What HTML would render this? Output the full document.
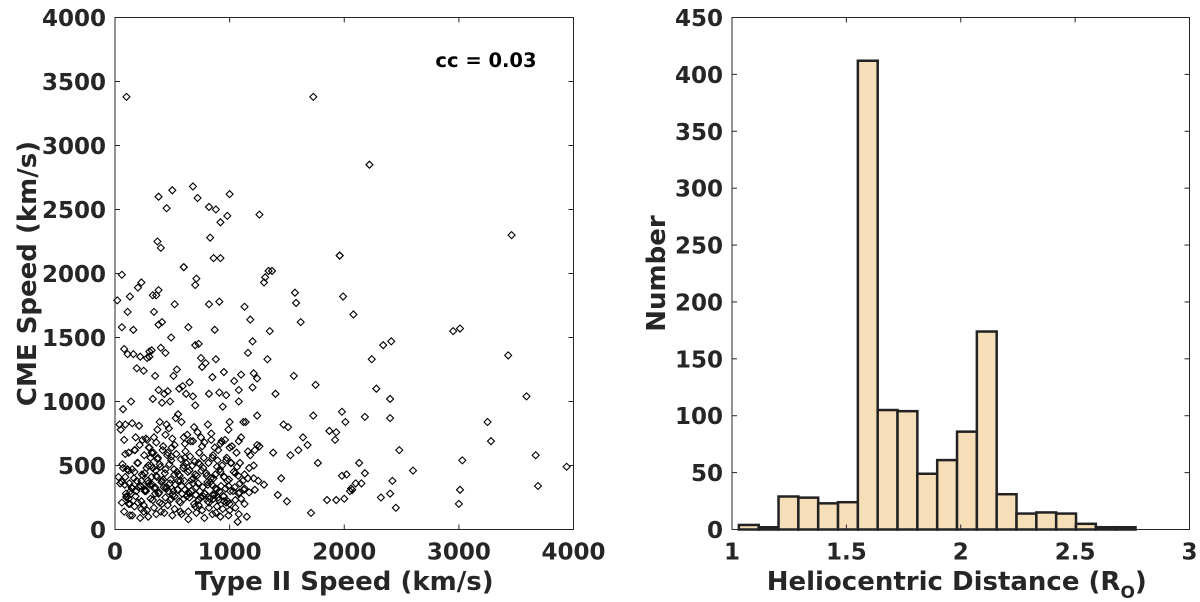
<!DOCTYPE html>
<html><head><meta charset="utf-8">
<style>
html,body{margin:0;padding:0;background:#fff;}
svg{display:block;font-family:"DejaVu Sans","Liberation Sans",sans-serif;}
</style></head>
<body>
<svg id="chart" width="1200" height="602" viewBox="0 0 1200 602">
<g id="left"></g>
<g id="right"></g>
</svg>
<script>
// ---- scatter data ----
const scatterX = [100,1730,2220,3460,2950,3010,3430,3590,3250,3280,3670,3940,3030,3010,3000,3690,2480,2600,2420,2400,2320,2450,2100,1980,2010,1990,1960,2080,2240,2340,2410,2280,2400,2400,2180,2130,2180,2060,1980,2020,2050,1920,1870,1930,1750,1730,1710,1770,1570,1580,1620,1560,1530,1600,1470,1450,1310,1340,1260,1400,1240,1180,1850,1930,2000,2070,2150,1680,1640,1510,1500,1420,1380,1350,1330,
380,500,680,1000,400,600,450,720,820,880,920,980,700,830,860,920,370,380,330,340,380,1960,1300,1370,60,230,200,130,110,160,20,300,320,360,400,410,440,490,520,600,640,700,710,750,820,870,910,950,1080,1100,1130,1200,1210,
60,80,110,140,160,190,220,250,280,300,330,350,380,410,430,460,480,510,540,560,590,620,650,680,700,730,760,790,820,850,880,910,940,970,1000,1040,1080,1120,1160,1200,1240,
40,70,90,120,150,180,210,240,270,300,320,340,370,390,420,450,470,500,530,550,580,610,630,660,690,720,750,780,810,840,870,900,930,960,990,1020,1060,1100,1140,1180,1220,1260,
50,80,100,130,170,200,230,260,290,310,330,360,390,410,440,460,490,520,540,570,600,620,650,670,700,740,770,800,830,860,890,920,950,980,1010,1050,1090,1130,1170,1210,1250,1300,
30,60,90,120,150,190,220,260,290,320,350,380,420,450,480,510,550,580,610,640,680,710,740,780,810,850,880,910,950,990,1030,1080,1130,1170,1220,
100,140,180,230,270,310,350,390,440,480,520,560,600,650,690,730,770,820,860,900,950,1000,1050,1100,
60,120,170,230,280,340,400,460,520,580,640,700,760,820,880,940,1000,1080,1150,
80,150,220,290,360,430,500,570,640,710,780,850,920,990,1070,
130,250,370,490,610,730,850,970,1090,1210,
70,110,150,195,235,275,315,355,395,435,475,515,555,595,635,675,715,755,795,835,875,915,955,995,1035,1075,1115,1160,
45,85,125,165,205,245,285,325,365,405,445,485,525,565,605,645,685,725,765,805,845,885,925,965,1005,1045,1085,1125,
95,135,175,215,255,295,335,375,415,455,495,535,575,615,655,695,735,775,815,855,895,935,975,1015,1065,
65,105,145,185,225,265,305,345,385,425,465,505,545,585,625,665,705,745,785,825,865,905,945,985,
120,200,280,360,440,520,600,680,760,840,920,1000,1080,1160,1240,
90,170,250,330,410,490,570,650,730,810,890,970,1050,1130];
const scatterY = [3380,3380,2850,2300,1550,1570,1360,1040,840,690,580,490,540,310,200,340,620,460,380,280,250,170,360,920,840,1820,2140,1680,1330,1440,1470,1100,1020,870,880,520,440,320,420,430,300,700,770,760,1130,890,130,520,1850,1770,1620,1200,580,620,820,400,1970,2020,2460,1060,1180,1640,230,230,240,310,360,660,720,800,220,270,600,1550,1330,
2600,2650,2680,2620,2200,2050,2510,2590,2520,2500,2400,2450,1910,2280,2120,2120,2250,1870,1830,1700,1600,2140,1930,2020,1990,1930,1890,1820,1700,1560,1790,1350,1400,1830,1420,1620,1380,1500,1760,2050,1580,1440,1960,1340,1760,1560,1780,1230,1000,1210,1740,1110,1220,1580,1410,
1370,1000,1370,1260,1350,1240,1340,1390,1020,1200,1090,990,1060,1080,1000,1200,1250,1100,1120,1060,1150,1040,970,1450,1270,1300,1060,1190,1330,1070,960,1050,840,1160,1090,840,1380,1470,890,820,940,
820,600,830,720,810,700,710,640,600,720,780,840,650,820,790,710,870,900,840,670,740,690,800,760,720,680,820,750,640,620,690,700,780,650,600,720,840,580,620,650,780,700,
250,200,450,520,380,440,500,560,480,420,510,380,470,600,540,430,450,380,500,520,460,390,430,510,480,420,370,400,490,450,410,380,520,440,360,430,480,400,380,350,410,370,
410,460,320,380,340,300,360,410,330,280,390,320,360,300,380,340,310,290,360,330,300,280,350,270,320,300,260,340,300,280,320,290,310,260,280,
260,220,300,240,280,210,250,230,260,220,240,280,200,230,260,210,240,250,220,200,230,240,210,200,
180,160,150,170,140,190,160,120,140,180,150,170,130,160,150,120,100,140,110,
90,100,120,130,110,140,80,130,90,120,100,110,60,110,140,
550,570,560,520,560,540,520,500,480,470,
470,520,430,480,500,460,490,440,510,470,430,480,450,500,420,460,440,400,430,470,410,390,450,420,380,400,360,350,
360,400,330,420,380,350,410,370,330,390,350,420,380,340,400,360,330,370,350,310,340,320,300,330,290,310,280,300,
620,660,580,640,600,560,620,580,640,590,550,610,570,530,600,560,520,580,540,500,560,520,490,510,470,
330,300,340,310,350,320,290,330,300,270,310,280,260,300,270,250,280,240,270,230,260,220,240,210,
700,680,740,660,720,690,650,700,670,640,690,610,660,590,620,
190,230,200,240,210,250,190,220,180,210,170,200,160,180];

// ---- histogram data ----
const binStart = 1.03;
const binWidth = 0.0867;
const counts = [4,2,29,28,23,24,412,105,104,49,61,86,174,31,14,15,14,5,2,2];

const xTicksL = [0,1000,2000,3000,4000];
const yTicksL = [0,500,1000,1500,2000,2500,3000,3500,4000];
const xTicksR = [1,1.5,2,2.5,3];
const yTicksR = [0,50,100,150,200,250,300,350,400,450];

const NS = "http://www.w3.org/2000/svg";
function mk(tag, attrs, parent){
  const e = document.createElementNS(NS, tag);
  for (const k in attrs) e.setAttribute(k, attrs[k]);
  parent.appendChild(e);
  return e;
}
const TOP = 17.5, BOT = 529.5;
const Lx0 = 115, Lx1 = 573.5, Rx0 = 732, Rx1 = 1189.5;
const sxL = v => Lx0 + (v/4000)*(Lx1-Lx0);
const syL = v => BOT - (v/4000)*(BOT-TOP);
const sxR = v => Rx0 + ((v-1)/2)*(Rx1-Rx0);
const syR = v => BOT - (v/450)*(BOT-TOP);
const TXT = "#262626";

function axes(g, x0, x1, xt, yt, sx, sy, xfmt){
  const box = mk('rect',{x:x0,y:TOP,width:x1-x0,height:BOT-TOP,fill:'none',stroke:'#262626','stroke-width':1},g);
  
  
  xt.forEach(v=>{
    const X = sx(v);
    mk('line',{x1:X,x2:X,y1:BOT,y2:BOT-5,stroke:'#262626'},g);
    mk('line',{x1:X,x2:X,y1:TOP,y2:TOP+5,stroke:'#262626'},g);
    const t = mk('text',{x:X,y:BOT+30,'text-anchor':'middle','font-size':23,'font-weight':'bold',fill:TXT},g);
    t.textContent = xfmt(v);
    
    
  });
  yt.forEach(v=>{
    const Y = sy(v);
    mk('line',{x1:x0,x2:x0+5,y1:Y,y2:Y,stroke:'#262626'},g);
    mk('line',{x1:x1,x2:x1-5,y1:Y,y2:Y,stroke:'#262626'},g);
    const t = mk('text',{x:x0-9,y:Y+8.5,'text-anchor':'end','font-size':23,'font-weight':'bold',fill:TXT},g);
    t.textContent = v;
    
    
  });
}

// Left scatter
const L = document.getElementById('left');
const pts = mk('g',{},L);


scatterX.forEach((xv,i)=>{
  const cx = sxL(xv), cy = syL(scatterY[i]);
  const p = mk('path',{d:`M${cx-3.5},${cy} L${cx},${cy-3.5} L${cx+3.5},${cy} L${cx},${cy+3.5} Z`,fill:'none',stroke:'#000','stroke-width':1.1},pts);
  
  
});
axes(L, Lx0, Lx1, xTicksL, yTicksL, sxL, syL, v=>String(v));
let t = mk('text',{x:486,y:67,'text-anchor':'middle','font-size':19.5,'font-weight':'bold',fill:'#000'},L);
t.textContent = 'cc = 0.03';


t = mk('text',{x:(Lx0+Lx1)/2,y:590,'text-anchor':'middle','font-size':26,'font-weight':'bold',fill:TXT},L);
t.textContent = 'Type II Speed (km/s)';


t = mk('text',{x:0,y:0,'text-anchor':'middle','font-size':26,'font-weight':'bold',fill:TXT,transform:`translate(36,${(TOP+BOT)/2}) rotate(-90)`},L);
t.textContent = 'CME Speed (km/s)';



// Right histogram
const R = document.getElementById('right');
counts.forEach((c,i)=>{
  const a = binStart + i*binWidth;
  const x0 = sxR(a), x1 = sxR(a+binWidth);
  const r = mk('rect',{x:x0,y:syR(c),width:x1-x0,height:BOT-syR(c),fill:'#f5deb8',stroke:'#222','stroke-width':2.5},R);
  
  
});
axes(R, Rx0, Rx1, xTicksR, yTicksR, sxR, syR, v=>String(v));
t = mk('text',{x:(Rx0+Rx1)/2 - 4,y:590,'text-anchor':'middle','font-size':26,'font-weight':'bold',fill:TXT},R);
t.innerHTML = 'Heliocentric Distance (R<tspan font-size="17" dy="8">O</tspan><tspan dy="-8">)</tspan>';


t = mk('text',{x:0,y:0,'text-anchor':'middle','font-size':26,'font-weight':'bold',fill:TXT,transform:`translate(665,${(TOP+BOT)/2}) rotate(-90)`},R);
t.textContent = 'Number';


</script>
</body></html>
